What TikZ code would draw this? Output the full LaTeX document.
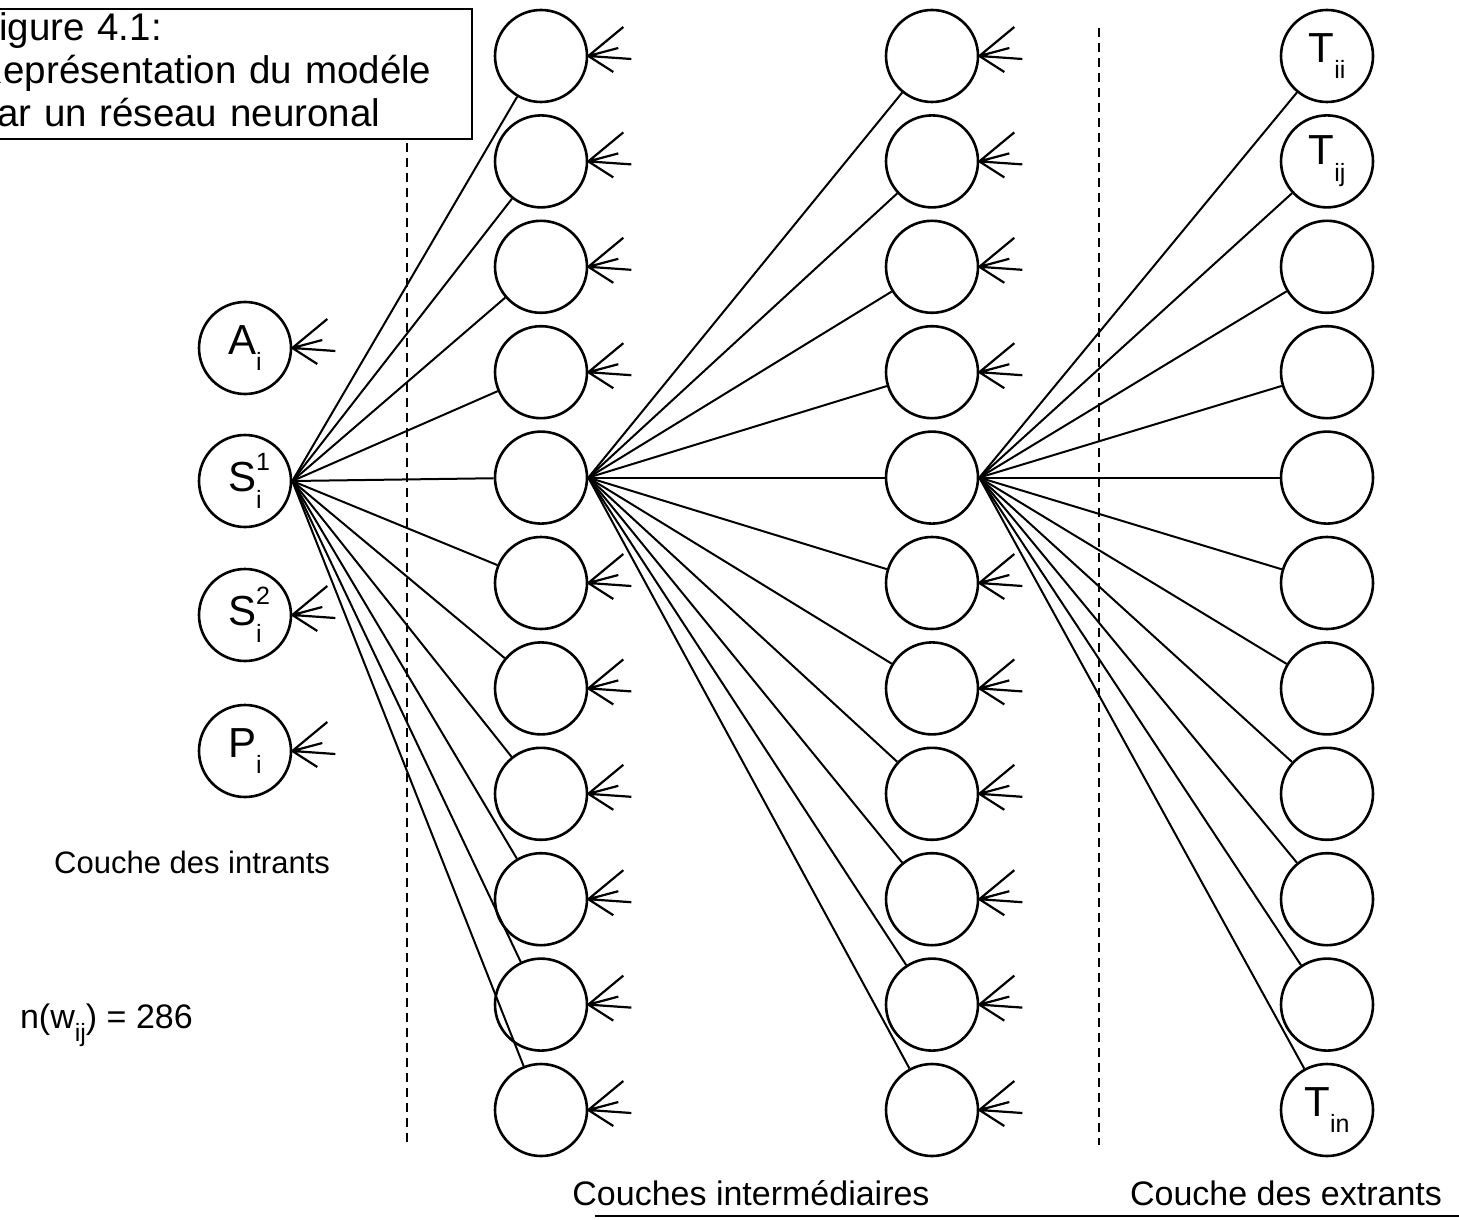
\documentclass[tikz,border=0pt]{standalone}
\usepackage{fontspec}
\setmainfont{Liberation Sans}
\newcommand{\subidx}[1]{\raisebox{-0.4em}{\fontsize{12.5pt}{12.5pt}\selectfont #1}}
\newcommand{\supidx}[1]{\raisebox{0.5em}{\fontsize{12.5pt}{12.5pt}\selectfont #1}}
\begin{document}
\begin{tikzpicture}[x=0.5pt,y=-0.5pt,
		neuron/.style={circle, draw, line width=1.3pt, minimum size=46pt, inner sep=0pt, font=\fontsize{21pt}{21pt}\selectfont},
		link/.style={line width=1pt},
		fan/.style={line width=1.1pt},
		sep/.style={line width=1.2pt, dash pattern=on 4.5pt off 3pt},
		legend/.style={font=\fontsize{17pt}{20pt}\selectfont}]
	\useasboundingbox (0,0) rectangle (1459,1219);
	\clip (0,0) rectangle (1459,1219);

	% caption box, cut by the left edge
	\node (caption) [draw, line width=1.1pt, anchor=north west, align=left, text width=239.75pt, inner xsep=8.5pt, inner ysep=2pt,
		font=\fontsize{19.25pt}{21.5pt}\selectfont] at (-42.5,8)
		{Figure 4.1:\\Représentation du modéle\\par un réseau neuronal};

	% input layer
	\node (a) [neuron] at (245,348) {A\subidx{i}};
	\node (s1) [neuron] at (245,481) {S\rlap{\supidx{1}}\subidx{i}};
	\node (s2) [neuron] at (245,615) {S\rlap{\supidx{2}}\subidx{i}};
	\node (p) [neuron] at (245,751) {P\subidx{i}};

	% hidden layers
	\foreach \k in {0,...,10} {
		\node (h1-\k) [neuron] at (541,{56+105.4*\k}) {};
		\node (h2-\k) [neuron] at (932,{56+105.4*\k}) {};
	}

	% output layer
	\node (out-0) [neuron] at (1327,56) {T\subidx{ii}};
	\node (out-1) [neuron] at (1327,161.4) {T\subidx{ij}};
	\foreach \k in {2,...,9}
		\node (out-\k) [neuron] at (1327,{56+105.4*\k}) {};
	\node (out-10) [neuron] at (1327,1110) {T\subidx{in}};

	% weights
	\foreach \k in {0,...,10} {
		\draw[link] (s1.east) -- (h1-\k);
		\draw[link] (h1-4.east) -- (h2-\k);
		\draw[link] (h2-4.east) -- (out-\k);
	}

	% incoming signals
	\foreach \n in {a,s2,p,h1-0,h1-1,h1-2,h1-3,h1-5,h1-6,h1-7,h1-8,h1-9,h1-10,
			h2-0,h2-1,h2-2,h2-3,h2-5,h2-6,h2-7,h2-8,h2-9,h2-10}
		\draw[fan] (\n.east) -- +(35,-29) (\n.east) -- +(30,-8)
			(\n.east) -- +(43,3) (\n.east) -- +(25,16);

	% layer separators
	\draw[sep] (407,143) -- (407,1145);
	\draw[sep] (1099,28) -- (1099,1145);

	\node (intrants) [legend, anchor=base east, font=\fontsize{15.5pt}{18pt}\selectfont] at (337,873) {Couche des intrants};
	\node (poids) [legend, anchor=base west] at (13,1028) {n(w\subidx{ij}) = 286};
	\node (inter) [legend, anchor=base] at (751,1205) {Couches intermédiaires};
	\node (extrants) [legend, anchor=base] at (1286,1205) {Couche des extrants};

	\draw[line width=1pt] (595,1216) -- (1459,1216);
\end{tikzpicture}
\end{document}
